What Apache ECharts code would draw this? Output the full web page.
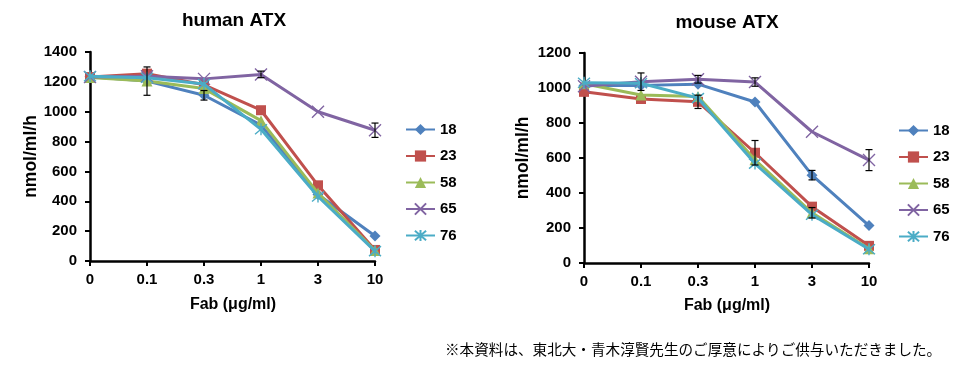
<!DOCTYPE html>
<html>
<head>
<meta charset="utf-8">
<script src="https://cdn.jsdelivr.net/npm/echarts@6/dist/echarts.min.js"></script>
<style>
html,body{margin:0;padding:0;background:#fff;}
#c{width:973px;height:376px;}
</style>
</head>
<body>
<div id="c"></div>
<script>
// ---- data ----
const categories = ['0', '0.1', '0.3', '1', '3', '10'];
const seriesNames = ['18', '23', '58', '65', '76'];

const human18 = [1235, 1205, 1110, 910, 445, 167];
const human23 = [1232, 1255, 1180, 1010, 507, 74];
const human58 = [1230, 1205, 1155, 940, 455, 70];
const human65 = [1232, 1238, 1220, 1250, 1000, 876];
const human76 = [1238, 1228, 1185, 882, 432, 66];

const human18Err = [0, 0, 32, 0, 0, 0];
const human23Err = [0, 0, 0, 0, 0, 0];
const human58Err = [0, 95, 0, 0, 0, 0];
const human65Err = [0, 0, 0, 22, 0, 48];
const human76Err = [0, 0, 0, 0, 0, 0];

const mouse18 = [1015, 1015, 1022, 920, 502, 214];
const mouse23 = [978, 937, 921, 630, 322, 98];
const mouse58 = [1024, 960, 952, 590, 287, 82];
const mouse65 = [1010, 1036, 1050, 1034, 750, 588];
const mouse76 = [1030, 1027, 942, 568, 276, 79];

const mouse18Err = [0, 0, 0, 0, 27, 0];
const mouse23Err = [0, 0, 38, 70, 0, 0];
const mouse58Err = [0, 0, 0, 0, 30, 0];
const mouse65Err = [0, 50, 22, 24, 0, 60];
const mouse76Err = [0, 0, 0, 0, 0, 0];

const humanYMax = 1400, mouseYMax = 1200, yStep = 200;
const titles = ['human ATX', 'mouse ATX'];
const xName = 'Fab (μg/ml)';
const yName = 'nmol/ml/h';
const footnote = '※本資料は、東北大・青木淳賢先生のご厚意によりご供与いただきました。';

// ---- styles ----
const FONT = "'Liberation Sans', Arial, sans-serif";
const colors = ['#4F81BD', '#C0504D', '#9BBB59', '#8064A2', '#4BACC6'];
const symbols = ['diamond', 'rect', 'triangle',
  'path://M0,0L10,10M10,0L0,10',
  'path://M0,0L10,10M10,0L0,10M5,-1L5,11'];
const symbolSizes = [11, 10, 11, 12, 12];

const humanVals = [human18, human23, human58, human65, human76];
const humanErrs = [human18Err, human23Err, human58Err, human65Err, human76Err];
const mouseVals = [mouse18, mouse23, mouse58, mouse65, mouse76];
const mouseErrs = [mouse18Err, mouse23Err, mouse58Err, mouse65Err, mouse76Err];

function lineSeries(vals, gi) {
  return vals.map((v, i) => ({
    type: 'line',
    name: seriesNames[i],
    xAxisIndex: gi, yAxisIndex: gi,
    data: v,
    symbol: symbols[i],
    symbolSize: symbolSizes[i],
    showSymbol: true,
    lineStyle: { color: colors[i], width: 3 },
    itemStyle: i >= 3 ? { color: colors[i], borderColor: colors[i], borderWidth: 1.4 }
                      : { color: colors[i], borderWidth: 0 },
    z: 2 + i,
    emphasis: { disabled: true }
  }));
}

function errSeries(valsList, errsList, gi) {
  const data = [];
  valsList.forEach((vals, s) => {
    errsList[s].forEach((e, i) => {
      if (e > 0) data.push([i, vals[i] - e, vals[i] + e]);
    });
  });
  return {
    type: 'custom',
    name: 'err' + gi,
    xAxisIndex: gi, yAxisIndex: gi,
    z: 20,
    encode: { x: 0, y: [1, 2] },
    data: data,
    renderItem: function (params, api) {
      const x = api.value(0);
      const lo = api.coord([x, api.value(1)]);
      const hi = api.coord([x, api.value(2)]);
      const w = 3.5;
      const st = { stroke: '#000', lineWidth: 1.2 };
      return {
        type: 'group',
        children: [
          { type: 'line', shape: { x1: lo[0], y1: lo[1], x2: hi[0], y2: hi[1] }, style: st },
          { type: 'line', shape: { x1: lo[0] - w, y1: lo[1], x2: lo[0] + w, y2: lo[1] }, style: st },
          { type: 'line', shape: { x1: hi[0] - w, y1: hi[1], x2: hi[0] + w, y2: hi[1] }, style: st }
        ]
      };
    }
  };
}

function xAxis(gi) {
  return {
    type: 'category', gridIndex: gi, data: categories, boundaryGap: false,
    axisLine: { show: true, lineStyle: { color: '#000', width: 2.5 } },
    axisTick: { show: true, inside: false, length: 5, lineStyle: { color: '#000', width: 2 } },
    axisLabel: { color: '#000', fontFamily: FONT, fontWeight: 'bold', fontSize: 15, margin: 11 },
    splitLine: { show: false }
  };
}
function yAxis(gi, max, gap) {
  return {
    type: 'value', gridIndex: gi, min: 0, max: max, interval: yStep,
    name: yName, nameLocation: 'middle', nameRotate: 90, nameGap: gap,
    nameTextStyle: { color: '#000', fontFamily: FONT, fontWeight: 'bold', fontSize: 17.5 },
    axisLine: { show: true, lineStyle: { color: '#000', width: 2.5 } },
    axisTick: { show: true, inside: false, length: 5, lineStyle: { color: '#000', width: 2 } },
    axisLabel: { color: '#000', fontFamily: FONT, fontWeight: 'bold', fontSize: 15, margin: 13,
      formatter: function (v) { return String(v); } },
    splitLine: { show: false }
  };
}
function legend(left, top) {
  return {
    orient: 'vertical', left: left, top: top, data: seriesNames, padding: 0,
    itemWidth: 29, itemHeight: 14, itemGap: 11.5,
    textStyle: { color: '#000', fontFamily: FONT, fontWeight: 'bold', fontSize: 15 },
    selectedMode: false
  };
}
function txt(x, y, text, size, weight, family, align) {
  return {
    type: 'text', x: x, y: y, silent: true,
    style: { text: text, fill: '#000', font: weight + ' ' + size + 'px ' + family,
      textAlign: align || 'center', textVerticalAlign: 'middle' }
  };
}

const chart = echarts.init(document.getElementById('c'), null, { renderer: 'canvas' });
chart.setOption({
  animation: false,
  backgroundColor: '#fff',
  grid: [
    { left: 90, top: 52, width: 285, height: 209 },
    { left: 584, top: 53, width: 285, height: 210 }
  ],
  xAxis: [xAxis(0), xAxis(1)],
  yAxis: [yAxis(0, humanYMax, 50), yAxis(1, mouseYMax, 52)],
  legend: [legend(405, 122), legend(898, 123)],
  series: [].concat(lineSeries(humanVals, 0), lineSeries(mouseVals, 1),
    [errSeries(humanVals, humanErrs, 0), errSeries(mouseVals, mouseErrs, 1)]),
  graphic: [
    txt(234, 21, titles[0], 19, 'bold', FONT),
    txt(727, 23, titles[1], 19, 'bold', FONT),
    txt(233, 305, xName, 16, 'bold', FONT),
    txt(727, 306, xName, 16, 'bold', FONT),
    txt(445, 349, footnote, 14.6, 'normal', "'Noto Sans CJK JP', sans-serif", 'left')
  ]
});
</script>
</body>
</html>
